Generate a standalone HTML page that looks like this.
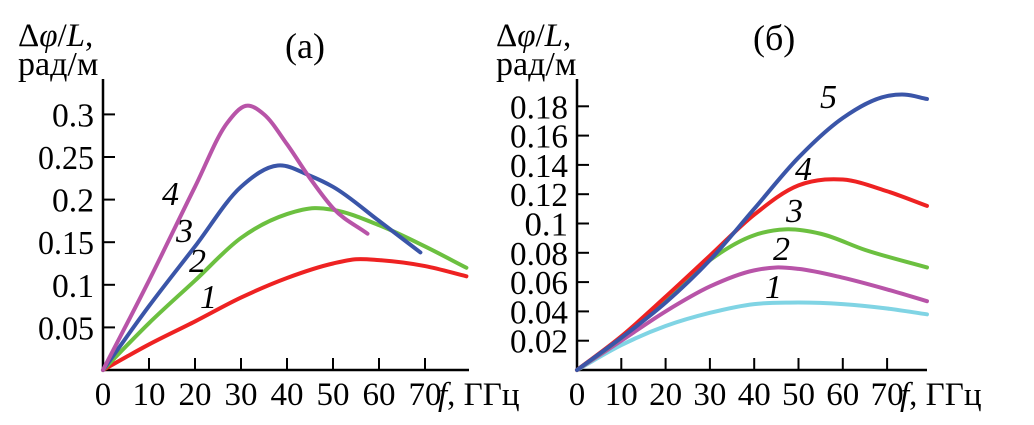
<!DOCTYPE html>
<html><head><meta charset="utf-8"><style>
html,body{margin:0;padding:0;background:#fff;position:relative;}
svg{display:block;}
text{font-family:"Liberation Serif","Times New Roman","Tinos","DejaVu Serif",serif;}
</style></head><body>
<svg id="chart" width="1034" height="425" viewBox="0 0 1034 425">
<g id="gA"></g>
<g id="gB"></g>
</svg>
<script>
// Panel (a) data
const aXTicks = [0,10,20,30,40,50,60,70];
const aYTicks = [0.05,0.1,0.15,0.2,0.25,0.3];
const aYTickLabels = ["0.05","0.1","0.15","0.2","0.25","0.3"];
const aX1 = [0,10,20,30,40,50,55,60,70,79];
const aY1 = [0,0.03,0.057,0.085,0.108,0.125,0.13,0.129,0.122,0.11];
const aX2 = [0,10,20,30,40,46,50,60,70,79];
const aY2 = [0,0.055,0.105,0.155,0.183,0.19,0.188,0.17,0.145,0.12];
const aX3 = [0,10,20,30,38,45,50,60,69];
const aY3 = [0,0.075,0.145,0.215,0.24,0.228,0.215,0.175,0.138];
const aX4 = [0,10,20,27,31,35,40,45,50,57.5];
const aY4 = [0,0.105,0.215,0.29,0.31,0.3,0.265,0.225,0.19,0.16];
// Panel (b) data
const bXTicks = [0,10,20,30,40,50,60,70];
const bYTicks = [0.02,0.04,0.06,0.08,0.1,0.12,0.14,0.16,0.18];
const bYTickLabels = ["0.02","0.04","0.06","0.08","0.1","0.12","0.14","0.16","0.18"];
const bX1 = [0,10,20,30,40,48,60,70,79];
const bY1 = [0,0.017,0.03,0.039,0.045,0.046,0.045,0.042,0.038];
const bX2 = [0,10,20,30,40,45,50,60,70,79];
const bY2 = [0,0.02,0.04,0.057,0.068,0.07,0.069,0.063,0.055,0.047];
const bX3 = [0,10,20,30,40,47,55,65,79];
const bY3 = [0,0.022,0.048,0.075,0.092,0.096,0.093,0.082,0.07];
const bX4 = [0,10,20,30,40,50,56,60,70,79];
const bY4 = [0,0.023,0.05,0.078,0.106,0.126,0.13,0.13,0.122,0.112];
const bX5 = [0,10,20,30,40,50,60,70,74,79];
const bY5 = [0,0.022,0.046,0.075,0.11,0.145,0.172,0.187,0.188,0.185];

const NS="http://www.w3.org/2000/svg";
function mk(parent,tag,attrs,text){const e=document.createElementNS(NS,tag);for(const k in attrs)e.setAttribute(k,attrs[k]);if(text!==undefined)e.textContent=text;parent.appendChild(e);return e;}
// cubic Hermite in x with finite-difference slopes
function smooth(pts){
  const n=pts.length, m=[];
  for(let i=0;i<n;i++){
    if(i===0)m.push((pts[1][1]-pts[0][1])/(pts[1][0]-pts[0][0]));
    else if(i===n-1)m.push((pts[n-1][1]-pts[n-2][1])/(pts[n-1][0]-pts[n-2][0]));
    else{const d0=(pts[i][1]-pts[i-1][1])/(pts[i][0]-pts[i-1][0]),d1=(pts[i+1][1]-pts[i][1])/(pts[i+1][0]-pts[i][0]);
      const h0=pts[i][0]-pts[i-1][0],h1=pts[i+1][0]-pts[i][0];m.push((d0*h1+d1*h0)/(h0+h1));}
  }
  let d="M"+pts[0][0]+","+pts[0][1];
  for(let i=0;i<n-1;i++){const h=pts[i+1][0]-pts[i][0];
    d+=` C${pts[i][0]+h/3},${pts[i][1]+m[i]*h/3} ${pts[i+1][0]-h/3},${pts[i+1][1]-m[i+1]*h/3} ${pts[i+1][0]},${pts[i+1][1]}`;}
  return d;
}

function panel(g,cfg){
  const sx=v=>cfg.x0+v*cfg.kx, sy=v=>cfg.y0-v*cfg.ky;
  const ax=mk(g,"path",{d:`M${cfg.x0},${cfg.yTop} V${cfg.y0} H${cfg.xEnd}`,stroke:"#000","stroke-width":2.5,fill:"none"});
  
  
  cfg.xt.forEach(v=>{
    if(v>0){const t=mk(g,"line",{x1:sx(v),x2:sx(v),y1:cfg.y0,y2:cfg.y0-12,stroke:"#000","stroke-width":2});
    
    }
    const l=mk(g,"text",{x:sx(v),y:cfg.y0+35,"text-anchor":"middle","font-size":33},String(v));
    
    
  });
  cfg.yt.forEach((v,i)=>{
    const t=mk(g,"line",{x1:cfg.x0,x2:cfg.x0+12,y1:sy(v),y2:sy(v),stroke:"#000","stroke-width":2});
    
    
    const l=mk(g,"text",{x:cfg.x0-9,y:sy(v)+12,"text-anchor":"end","font-size":34,textLength:cfg.tw*cfg.ytl[i].length,lengthAdjust:"spacingAndGlyphs"},cfg.ytl[i]);
    
    
  });
  cfg.series.forEach(s=>{
    const pts=s.x.map((v,i)=>[sx(v),sy(s.y[i])]);
    const p=mk(g,"path",{d:smooth(pts),stroke:s.c,"stroke-width":4,fill:"none","stroke-linecap":"round"});
    
    
  });
}

const gA=document.getElementById("gA"), gB=document.getElementById("gB");
panel(gA,{x0:103,y0:370,kx:4.6,ky:852,yTop:79,xEnd:469,xt:aXTicks,yt:aYTicks,ytl:aYTickLabels,tw:14,
  series:[{x:aX1,y:aY1,c:"#ee2222",name:"curve-1-a"},{x:aX2,y:aY2,c:"#6cc040",name:"curve-2-a"},{x:aX3,y:aY3,c:"#3a55a8",name:"curve-3-a"},{x:aX4,y:aY4,c:"#b854a8",name:"curve-4-a"}]});
panel(gB,{x0:577,y0:370,kx:4.43,ky:1465,yTop:79,xEnd:927,xt:bXTicks,yt:bYTicks,ytl:bYTickLabels,tw:14.5,
  series:[{x:bX1,y:bY1,c:"#80d4e4",name:"curve-1-b"},{x:bX2,y:bY2,c:"#b854a8",name:"curve-2-b"},{x:bX3,y:bY3,c:"#6cc040",name:"curve-3-b"},{x:bX4,y:bY4,c:"#ee2222",name:"curve-4-b"},{x:bX5,y:bY5,c:"#3a55a8",name:"curve-5-b"}]});
</script>
<svg width="1034" height="425" style="position:absolute;left:0;top:0;">
<text x="18" y="46" font-size="33">Δ<tspan font-style="italic">φ</tspan>/<tspan font-style="italic">L</tspan>,</text>
<text x="18" y="75" font-size="34">рад/м</text>
<text x="285" y="58" font-size="36">(a)</text>
<text x="438" y="405" font-size="33"><tspan font-style="italic">f</tspan>, ГГц</text>
<text x="496" y="46" font-size="33">Δ<tspan font-style="italic">φ</tspan>/<tspan font-style="italic">L</tspan>,</text>
<text x="496" y="75" font-size="34">рад/м</text>
<text x="753" y="50" font-size="36">(б)</text>
<text x="900" y="405" font-size="33"><tspan font-style="italic">f</tspan>, ГГц</text>
<g font-style="italic" font-size="34">
<text x="200" y="308">1</text>
<text x="189" y="272">2</text>
<text x="176" y="242">3</text>
<text x="162" y="205">4</text>
<text x="765" y="298">1</text>
<text x="773" y="260">2</text>
<text x="786" y="222">3</text>
<text x="795" y="180">4</text>
<text x="820" y="108">5</text>
</g>
</svg>
</body></html>
